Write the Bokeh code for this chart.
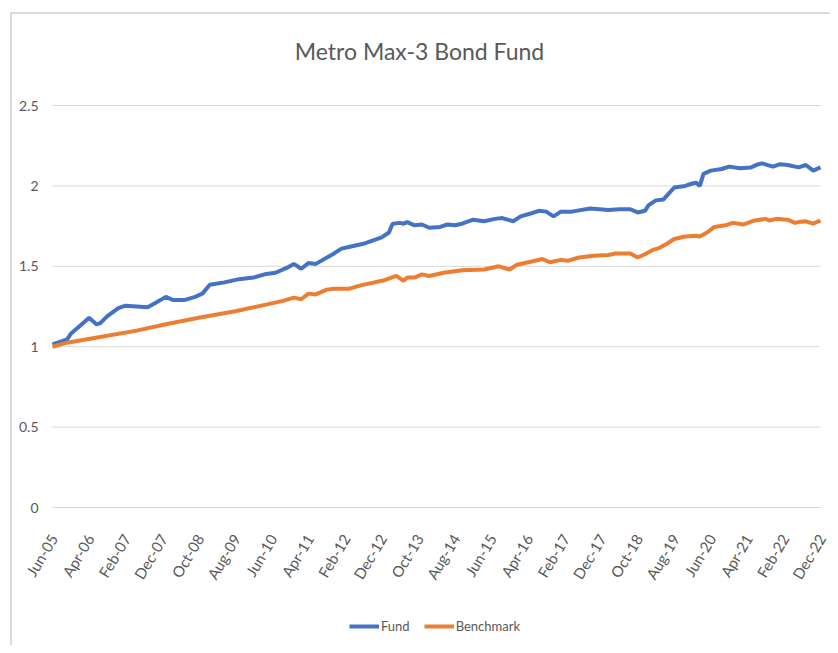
from bokeh.plotting import figure
from bokeh.models import Range1d, Legend, LegendItem
from bokeh.core.properties import value
from bokeh.embed import file_html
from bokeh.resources import INLINE

# Month offsets from Jun-05 and values
fund_month = [0, 2, 4, 5, 8, 10, 12, 13, 15, 18, 20, 23, 26, 28, 31, 33, 36, 39, 41, 43,
              47, 51, 55, 58, 61, 64, 66, 68, 70, 72, 77, 79, 81, 85, 90, 92, 93, 95, 96, 97,
              99, 101, 103, 106, 108, 110, 112, 115, 118, 121, 123, 126, 128, 131, 133, 135,
              137, 139, 142, 147, 152, 155, 158, 160, 162, 163, 165, 167, 168, 170, 173, 175,
              176, 177, 178, 180, 183, 185, 188, 191, 193, 194, 197, 199, 201, 204, 206, 208, 210]
fund_value = [1.015, 1.03, 1.045, 1.08, 1.14, 1.18, 1.14, 1.145, 1.19, 1.24, 1.255, 1.25, 1.245,
              1.27, 1.31, 1.29, 1.29, 1.31, 1.33, 1.385, 1.40, 1.42, 1.43, 1.45, 1.46, 1.49,
              1.515, 1.485, 1.52, 1.515, 1.58, 1.61, 1.62, 1.64, 1.68, 1.71, 1.765, 1.77, 1.765,
              1.775, 1.755, 1.76, 1.74, 1.745, 1.76, 1.755, 1.765, 1.79, 1.78, 1.795, 1.80, 1.78,
              1.81, 1.83, 1.845, 1.84, 1.81, 1.84, 1.84, 1.86, 1.85, 1.855, 1.855, 1.835, 1.845,
              1.88, 1.91, 1.915, 1.94, 1.99, 2.00, 2.015, 2.02, 2.00, 2.075, 2.095, 2.105, 2.12,
              2.11, 2.115, 2.135, 2.14, 2.12, 2.135, 2.13, 2.115, 2.13, 2.095, 2.115]

bench_month = [0, 4, 13, 23, 31, 40, 50, 59, 63, 66, 68, 70, 72, 75, 77, 81, 84, 88, 91, 94,
               96, 97, 99, 101, 103, 107, 112, 118, 122, 125, 127, 131, 134, 136, 139, 141, 144,
               148, 152, 154, 158, 160, 162, 164, 166, 168, 170, 173, 176, 177, 179, 181, 184,
               186, 189, 192, 195, 196, 198, 201, 203, 204, 206, 208, 210]
bench_value = [1.00, 1.025, 1.06, 1.10, 1.14, 1.18, 1.22, 1.265, 1.285, 1.305, 1.295, 1.33,
               1.325, 1.355, 1.36, 1.36, 1.38, 1.40, 1.415, 1.44, 1.41, 1.43, 1.43, 1.45, 1.44,
               1.46, 1.475, 1.48, 1.50, 1.48, 1.51, 1.53, 1.545, 1.525, 1.54, 1.535, 1.555, 1.565,
               1.57, 1.58, 1.58, 1.555, 1.575, 1.60, 1.615, 1.64, 1.67, 1.685, 1.69, 1.685, 1.71,
               1.745, 1.755, 1.77, 1.76, 1.785, 1.795, 1.785, 1.795, 1.79, 1.77, 1.775, 1.78,
               1.765, 1.785]

x_tick_month = [0, 10, 20, 30, 40, 50, 60, 70, 80, 90, 100, 110, 120, 130, 140, 150, 160,
                170, 180, 190, 200, 210]
x_tick_labels = ["Jun-05", "Apr-06", "Feb-07", "Dec-07", "Oct-08", "Aug-09", "Jun-10",
                 "Apr-11", "Feb-12", "Dec-12", "Oct-13", "Aug-14", "Jun-15", "Apr-16",
                 "Feb-17", "Dec-17", "Oct-18", "Aug-19", "Jun-20", "Apr-21", "Feb-22", "Dec-22"]
y_ticks = [0, 0.5, 1, 1.5, 2, 2.5]
y_tick_labels = ["0", "0.5", "1", "1.5", "2", "2.5"]

FONT = "Lato"
GREY = "#595959"
GRID = "#d9d9d9"

# Layout: the plotted area (0..210 months, 0..2.5) is 768 x 402 px; the frame is
# widened around it so that the tick labels and legend can be drawn inside it.
PLOT_W, PLOT_H = 768, 402
PAD_L, PAD_R, PAD_T, PAD_B = 40, 6, 10, 138
PX_X = PLOT_W / 210.0
PX_Y = PLOT_H / 2.5

p = figure(frame_width=PLOT_W + PAD_L + PAD_R, frame_height=PLOT_H + PAD_T + PAD_B,
           output_backend="svg", toolbar_location=None,
           x_range=Range1d(-PAD_L / PX_X, 210 + PAD_R / PX_X),
           y_range=Range1d(-PAD_B / PX_Y, 2.5 + PAD_T / PX_Y),
           x_axis_location=None, y_axis_location=None,
           min_border_left=12, min_border_right=4, min_border_top=95, min_border_bottom=0)
p.outline_line_color = None
p.background_fill_color = "white"
p.border_fill_alpha = 0
p.styles = {
    "background": ("linear-gradient(#dadada, #dadada) 10px 12px / 2px 100% no-repeat, "
                   "linear-gradient(#dadada, #dadada) 10px 12px / 100% 2px no-repeat, white"),
}
p.xgrid.grid_line_color = None
p.ygrid.grid_line_color = None

p.title.text = "Metro Max-3 Bond Fund"
p.title.align = "center"
p.title.text_font = FONT
p.title.text_font_size = "23px"
p.title.text_font_style = "normal"
p.title.text_color = GREY
p.title.offset = 9
p.title.standoff = 62

# horizontal gridlines (the 0 line doubles as the category axis line)
p.segment(x0=[x_tick_month[0]] * len(y_ticks), y0=y_ticks,
          x1=[x_tick_month[-1]] * len(y_ticks), y1=y_ticks,
          line_color=GRID, line_width=1)

r1 = p.line(fund_month, fund_value, line_color="#4472C4", line_width=4)
r2 = p.line(bench_month, bench_value, line_color="#ED7D31", line_width=4)

# value labels left of the gridlines
p.text(x=[x_tick_month[0]] * len(y_ticks), y=y_ticks, text=y_tick_labels,
       text_align="right", text_baseline="middle", x_offset=-14,
       text_font=value(FONT), text_font_size="14px", text_color=GREY)

# category (date) labels under the 0 line
p.text(x=x_tick_month, y=[0] * len(x_tick_month), text=x_tick_labels,
       angle=1.03, text_align="right", text_baseline="middle",
       x_offset=1, y_offset=28,
       text_font=value(FONT), text_font_size="15px", text_color=GREY)

legend = Legend(items=[LegendItem(label="Fund", renderers=[r1]),
                       LegendItem(label="Benchmark", renderers=[r2])],
                orientation="horizontal", location=(337, 11),
                border_line_color=None, background_fill_alpha=0,
                label_text_font=FONT, label_text_font_size="13px",
                label_text_color=GREY, glyph_width=30, glyph_height=16,
                label_standoff=2, spacing=14, margin=0, padding=0)
p.add_layout(legend)

open("out.html", "w").write(file_html(p, INLINE))
